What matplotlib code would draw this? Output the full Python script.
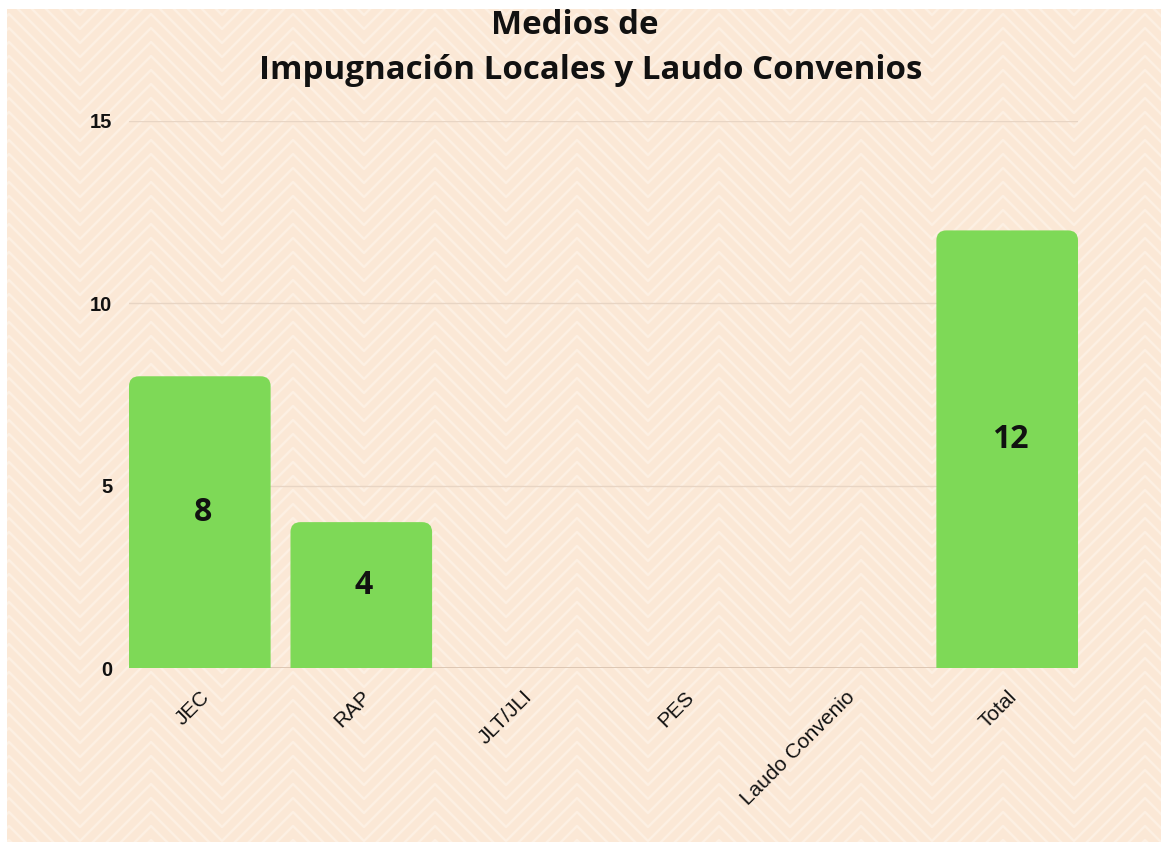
import matplotlib
matplotlib.use("Agg")
import matplotlib.pyplot as plt
from matplotlib.patches import FancyBboxPatch, Rectangle
from matplotlib.collections import LineCollection
from matplotlib.transforms import IdentityTransform

categories = ["JEC", "RAP", "JLT/JLI", "PES", "Laudo Convenio", "Total"]
values = [8, 4, 0, 0, 0, 12]
yticks = [0, 5, 10, 15]
title_lines = ["Medios de", "Impugnación Locales y Laudo Convenios"]

W, H = 1161, 846
fig = plt.figure(figsize=(W / 100, H / 100), dpi=100)
fig.patch.set_facecolor("white")
bg = "#fbe8d6"
fig.patches.append(Rectangle((7 / W, 4 / H), 1 - 7 / W, 1 - 13 / H,
                             transform=fig.transFigure, facecolor=bg,
                             edgecolor="none", zorder=-10))

# subtle chevron background texture (decoration, pixel coordinates)
segs = []
period, half, spacing = 142, 71, 14
x0 = 577 - 5 * period
for k in range(-70, 80):
    c = k * spacing
    pts = []
    xx = x0
    i = 0
    while xx <= W + period:
        pts.append((xx, H - (c + (0 if i % 2 == 0 else half))))
        xx += half
        i += 1
    segs.append(pts)
lc = LineCollection(segs, colors="#fdf0e3", linewidths=1.8,
                    transform=IdentityTransform(), zorder=-9)
clip = Rectangle((7, 4), W - 7, H - 13, transform=IdentityTransform())
lc.set_clip_path(clip)
fig.add_artist(lc)

ax = fig.add_axes([129 / W, 1 - 668 / H, (1078 - 129) / W, (668 - 121) / H])
ax.set_facecolor("none")
width = 0.877
x = list(range(len(categories)))
bars = ax.bar(x, values, width=width, color="#7ed957")
ax.set_xlim(-width / 2, len(categories) - 1 + width / 2)
ax.set_ylim(0, 15)

# rounded top corners
px_per_x = (1078 - 129) / (ax.get_xlim()[1] - ax.get_xlim()[0])
px_per_y = (668 - 121) / 15
r_px = 10
rx = r_px / px_per_x
aspect = (r_px / px_per_y) / rx
for b in bars:
    h = b.get_height()
    b.set_visible(False)
    if h <= 0:
        continue
    p = FancyBboxPatch((b.get_x(), -1), b.get_width(), h + 1,
                       boxstyle=f"round,pad=0,rounding_size={rx}",
                       mutation_aspect=aspect, facecolor="#7ed957",
                       edgecolor="none", zorder=2, clip_on=True)
    ax.add_patch(p)

for xi, v in zip(x, values):
    if v > 0:
        ax.annotate(str(v), (xi, v / 2), xytext=(2, 7), textcoords="offset points",
                    ha="center", va="center", fontsize=23, fontweight="bold",
                    family="Open Sans", color="#111111", zorder=3)

ax.set_yticks(yticks)
ax.set_yticklabels([str(t) for t in yticks], fontsize=14.5, fontweight="bold",
                   family="Liberation Sans", color="#111111")
ax.set_xticks(x)
ax.set_xticklabels(categories, rotation=45, ha="right", rotation_mode="anchor",
                   fontsize=15, family="Liberation Sans", color="#111111")
ax.tick_params(axis="both", length=0)
ax.tick_params(axis="y", pad=12)
ax.tick_params(axis="x", pad=14)
for s in ax.spines.values():
    s.set_visible(False)
ax.grid(axis="y", color="#e8d5c4", linewidth=1)
ax.set_axisbelow(True)
ax.axhline(0, color="#d8c2ae", linewidth=1.2, zorder=1)

fig.text(575 / W, 1 - 34 / H, title_lines[0], ha="center", va="baseline",
         fontsize=23.8, fontweight="bold", family="Open Sans", color="#111111")
fig.text(591 / W, 1 - 79 / H, title_lines[1], ha="center", va="baseline",
         fontsize=23.8, fontweight="bold", family="Open Sans", color="#111111")

fig.savefig("out.png", dpi=100, facecolor=fig.get_facecolor())
